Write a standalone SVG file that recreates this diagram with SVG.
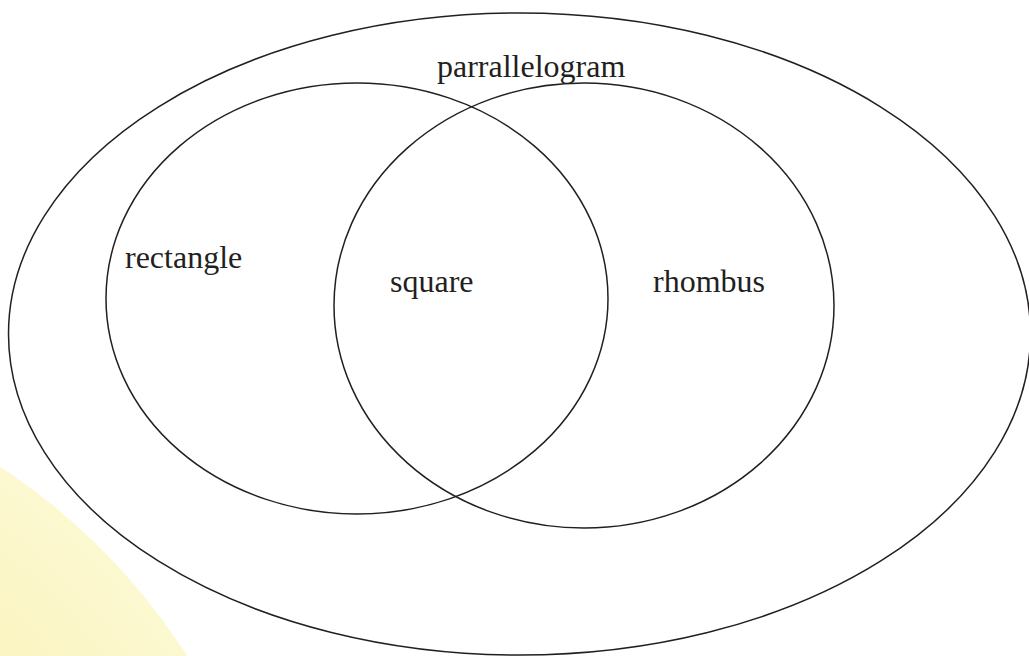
<svg xmlns="http://www.w3.org/2000/svg" width="1029" height="656" viewBox="0 0 1029 656">
<defs>
<radialGradient id="glow" cx="-350" cy="1000" r="638" gradientUnits="userSpaceOnUse">
<stop offset="0" stop-color="#F9EFA8"/>
<stop offset="0.8" stop-color="#FBF5C4"/>
<stop offset="1" stop-color="#FCF8D0"/>
</radialGradient>
<style>
.ring{fill:none;stroke:#231F20;stroke-width:1.5}
.lbl{font-family:"Liberation Serif","Times New Roman",serif;font-size:32px;fill:#231F20}
</style>
</defs>
<rect width="1029" height="656" fill="#FFFFFF"/>
<circle cx="-350" cy="1000" r="638" fill="url(#glow)"/>
<g id="parallelogram">
<ellipse class="ring" cx="519.5" cy="334" rx="511" ry="321"/>
<text class="lbl" x="437" y="77">parrallelogram</text>
</g>
<g id="rectangle">
<ellipse class="ring" cx="357" cy="298.5" rx="251" ry="215.5"/>
<text class="lbl" x="125" y="268">rectangle</text>
</g>
<g id="rhombus">
<ellipse class="ring" cx="584" cy="305.5" rx="250" ry="222.5"/>
<text class="lbl" x="653" y="292">rhombus</text>
</g>
<g id="square">
<text class="lbl" x="390" y="292">square</text>
</g>
<g id="connectors"></g>
</svg>
